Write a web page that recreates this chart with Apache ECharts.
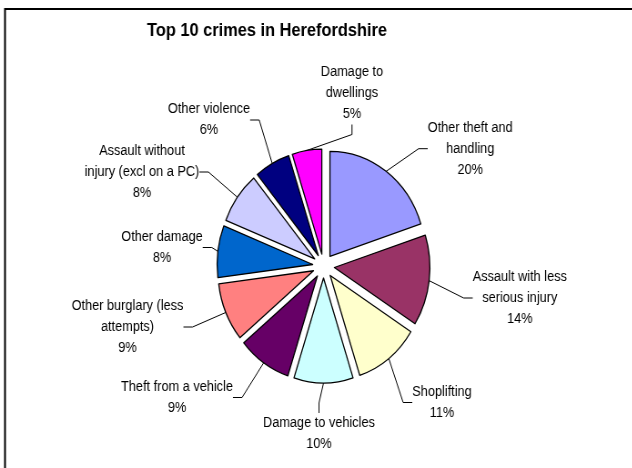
<!DOCTYPE html>
<html>
<head>
<meta charset="utf-8">
<script src="https://cdn.jsdelivr.net/npm/echarts@6/dist/echarts.min.js"></script>
<style>
  html, body { margin: 0; padding: 0; background: #fff; overflow: hidden; }
  #c { width: 695px; height: 468px; transform: scaleX(0.91); transform-origin: 0 0; }
</style>
</head>
<body>
<div id="c"></div>
<script>
// Data
const categories = [
  'Other theft and\nhandling',
  'Assault with less\nserious injury',
  'Shoplifting',
  'Damage to vehicles',
  'Theft from a vehicle',
  'Other burglary (less\nattempts)',
  'Other damage',
  'Assault without\ninjury (excl on a PC)',
  'Other violence',
  'Damage to\ndwellings'
];
const values = [20, 14, 11, 10, 9, 9, 8, 8, 6, 5];
const percentLabels = ['20%', '14%', '11%', '10%', '9%', '9%', '8%', '8%', '6%', '5%'];

// Styles / layout (kept out of the data arrays)
const sliceColors = ['#9999FF', '#993366', '#FFFFCC', '#CCFFFF', '#660066',
                     '#FF8080', '#0066CC', '#CCCCFF', '#000080', '#FF00FF'];
const labelPos = [
  [516.7, 148.7], [571.2, 298], [485.7, 402.5], [350.5, 434], [194.5, 397.5],
  [140.1, 327], [178, 247.5], [156, 172], [229.7, 120], [386.8, 93]
];
const CENTER = [355.5, 266];
const R = 105;
const EXPLODE = 12;
const FONT = 'Liberation Sans, Arial, sans-serif';

const chart = echarts.init(document.getElementById('c'));

chart.setOption({
  animation: false,
  backgroundColor: '#ffffff',
  title: {
    text: 'Top 10 crimes in Herefordshire',
    left: 288.5,
    textAlign: 'center',
    top: 17,
    textStyle: { fontFamily: FONT, fontSize: 18, fontWeight: 'bold', color: '#000' }
  },
  graphic: [{
    type: 'rect',
    shape: { x: 5.5, y: 9, width: 900, height: 700 },
    style: { fill: 'none', stroke: '#000', lineWidth: 2 },
    silent: true
  }],
  series: [{
    // visible, exploded slices
    type: 'pie',
    center: CENTER,
    radius: [0, R],
    startAngle: 90,
    clockwise: true,
    selectedMode: 'multiple',
    selectedOffset: EXPLODE,
    silent: true,
    itemStyle: { borderColor: '#000', borderWidth: 1.3 },
    emphasis: { disabled: true, scale: false },
    select: { itemStyle: { borderColor: '#000', borderWidth: 1.3 } },
    label: { show: false },
    labelLine: { show: false },
    data: categories.map((c, i) => ({
      name: c, value: values[i], selected: true,
      itemStyle: { color: sliceColors[i] }
    }))
  }, {
    // label carrier (same data, transparent)
    type: 'pie',
    center: CENTER,
    radius: [0, R + EXPLODE],
    startAngle: 90,
    clockwise: true,
    silent: true,
    avoidLabelOverlap: false,
    itemStyle: { color: 'rgba(0,0,0,0)', borderWidth: 0 },
    emphasis: { disabled: true, scale: false },
    label: {
      show: true,
      position: 'outside',
      formatter: p => p.name + '\n' + percentLabels[p.dataIndex],
      fontFamily: FONT,
      fontSize: 14,
      lineHeight: 21,
      color: '#000',
      align: 'center'
    },
    labelLine: {
      show: true,
      length: 10,
      length2: 10,
      lineStyle: { color: '#000', width: 1 }
    },
    labelLayout: function (params) {
      const p = labelPos[params.dataIndex];
      return { x: p[0], y: p[1], align: 'center', verticalAlign: 'middle' };
    },
    data: categories.map((c, i) => ({ name: c, value: values[i] }))
  }]
});
</script>
</body>
</html>
